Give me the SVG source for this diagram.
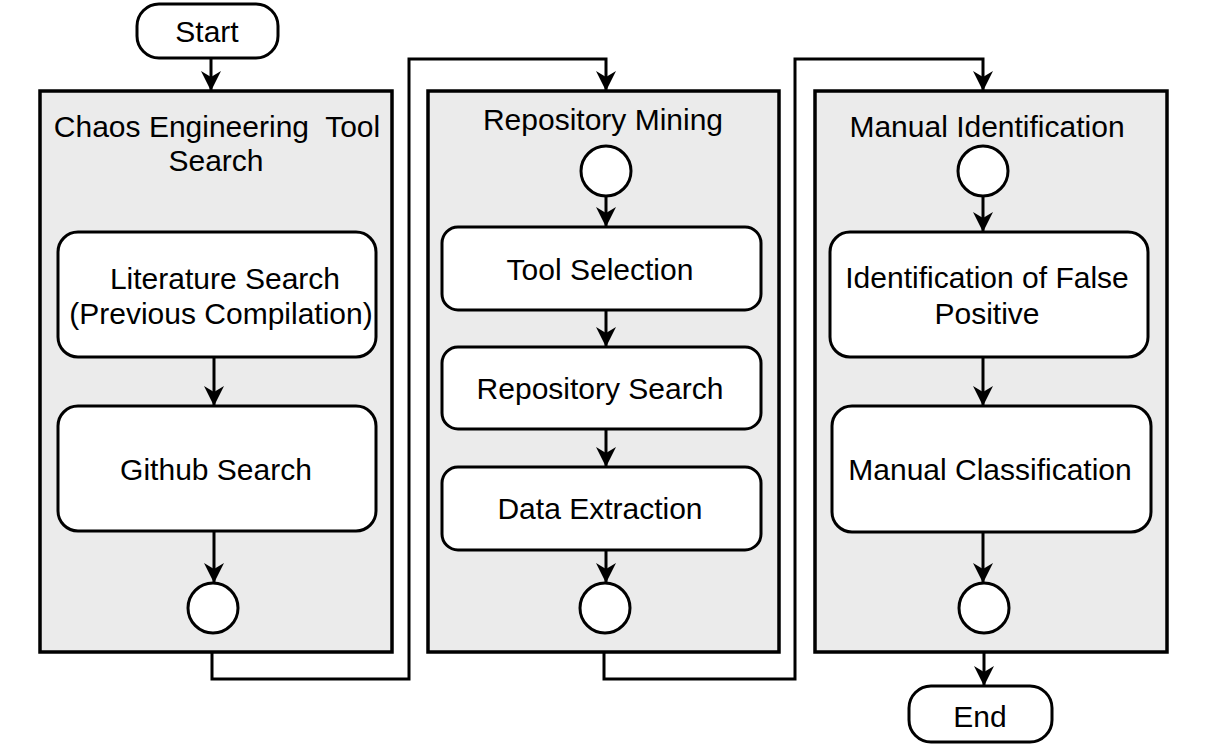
<svg xmlns="http://www.w3.org/2000/svg" width="1206" height="747" viewBox="0 0 1206 747">
<defs>
<style>
.cont{fill:#ebebeb;stroke:#000;stroke-width:3.5}
.box{fill:#fff;stroke:#000;stroke-width:3}
.term{fill:#fff;stroke:#000;stroke-width:3}
.circ{fill:#fff;stroke:#000;stroke-width:3}
.lbl{font-family:"Liberation Sans",Arial,sans-serif;font-size:30px;fill:#000;text-anchor:middle;white-space:pre}
.edge{fill:none;stroke:#000;stroke-width:3}
</style>
<marker id="arr" viewBox="0 0 20 20" refX="19" refY="10" markerUnits="userSpaceOnUse" markerWidth="22" markerHeight="20" orient="auto">
<path d="M0,0 L20,10 L0,20 L6,10 z" fill="#000"/>
</marker>
</defs>
<g id="containers">
<g id="chaos-tool-search">
<rect class="cont" x="40" y="91" width="352" height="561"/>
<text class="lbl" x="217" y="137" xml:space="preserve">Chaos Engineering  Tool</text>
<text class="lbl" x="216" y="171">Search</text>
</g>
<g id="repository-mining">
<rect class="cont" x="428" y="91" width="351" height="561"/>
<text class="lbl" x="603" y="130">Repository Mining</text>
</g>
<g id="manual-identification">
<rect class="cont" x="815" y="91" width="352" height="561"/>
<text class="lbl" x="987" y="137">Manual Identification</text>
</g>
</g>
<g id="start">
<rect class="term" x="137" y="4" width="141" height="54" rx="22"/>
<text class="lbl" x="207" y="42">Start</text>
</g>
<g id="literature-search">
<rect class="box" x="58" y="232" width="318" height="125" rx="20"/>
<text class="lbl" x="225" y="289">Literature Search</text>
<text class="lbl" x="221" y="324">(Previous Compilation)</text>
</g>
<g id="github-search">
<rect class="box" x="58" y="406" width="318" height="125" rx="20"/>
<text class="lbl" x="216" y="480">Github Search</text>
</g>
<g id="c1-end">
<circle class="circ" cx="213" cy="608" r="25"/>
</g>
<g id="c2-start">
<circle class="circ" cx="606" cy="171" r="25"/>
</g>
<g id="tool-selection">
<rect class="box" x="442" y="227" width="319" height="83" rx="16"/>
<text class="lbl" x="600" y="280">Tool Selection</text>
</g>
<g id="repository-search">
<rect class="box" x="442" y="347" width="319" height="82" rx="16"/>
<text class="lbl" x="600" y="399">Repository Search</text>
</g>
<g id="data-extraction">
<rect class="box" x="442" y="467" width="319" height="83" rx="16"/>
<text class="lbl" x="600" y="519">Data Extraction</text>
</g>
<g id="c2-end">
<circle class="circ" cx="605" cy="608" r="25"/>
</g>
<g id="c3-start">
<circle class="circ" cx="983" cy="171" r="25"/>
</g>
<g id="identification-false-positive">
<rect class="box" x="830" y="232" width="318" height="125" rx="20"/>
<text class="lbl" x="987" y="288">Identification of False</text>
<text class="lbl" x="987" y="324">Positive</text>
</g>
<g id="manual-classification">
<rect class="box" x="832" y="406" width="319" height="126" rx="20"/>
<text class="lbl" x="990" y="480">Manual Classification</text>
</g>
<g id="c3-end">
<circle class="circ" cx="984" cy="608" r="25"/>
</g>
<g id="end">
<rect class="term" x="909" y="686" width="143" height="56" rx="22"/>
<text class="lbl" x="980" y="727">End</text>
</g>
<g id="connectors">
<path class="edge" d="M211 58 V90" marker-end="url(#arr)"/>
<path class="edge" d="M214 357 V405" marker-end="url(#arr)"/>
<path class="edge" d="M214 531 V582" marker-end="url(#arr)"/>
<path class="edge" d="M212 652 V679 H409 V59 H606 V90" marker-end="url(#arr)"/>
<path class="edge" d="M606 196 V226" marker-end="url(#arr)"/>
<path class="edge" d="M606 310 V346" marker-end="url(#arr)"/>
<path class="edge" d="M606 429 V466" marker-end="url(#arr)"/>
<path class="edge" d="M606 550 V582" marker-end="url(#arr)"/>
<path class="edge" d="M604 652 V679 H795 V59 H983 V90" marker-end="url(#arr)"/>
<path class="edge" d="M983 196 V231" marker-end="url(#arr)"/>
<path class="edge" d="M983 357 V405" marker-end="url(#arr)"/>
<path class="edge" d="M983 532 V582" marker-end="url(#arr)"/>
<path class="edge" d="M984 652 V685" marker-end="url(#arr)"/>
</g>
</svg>
